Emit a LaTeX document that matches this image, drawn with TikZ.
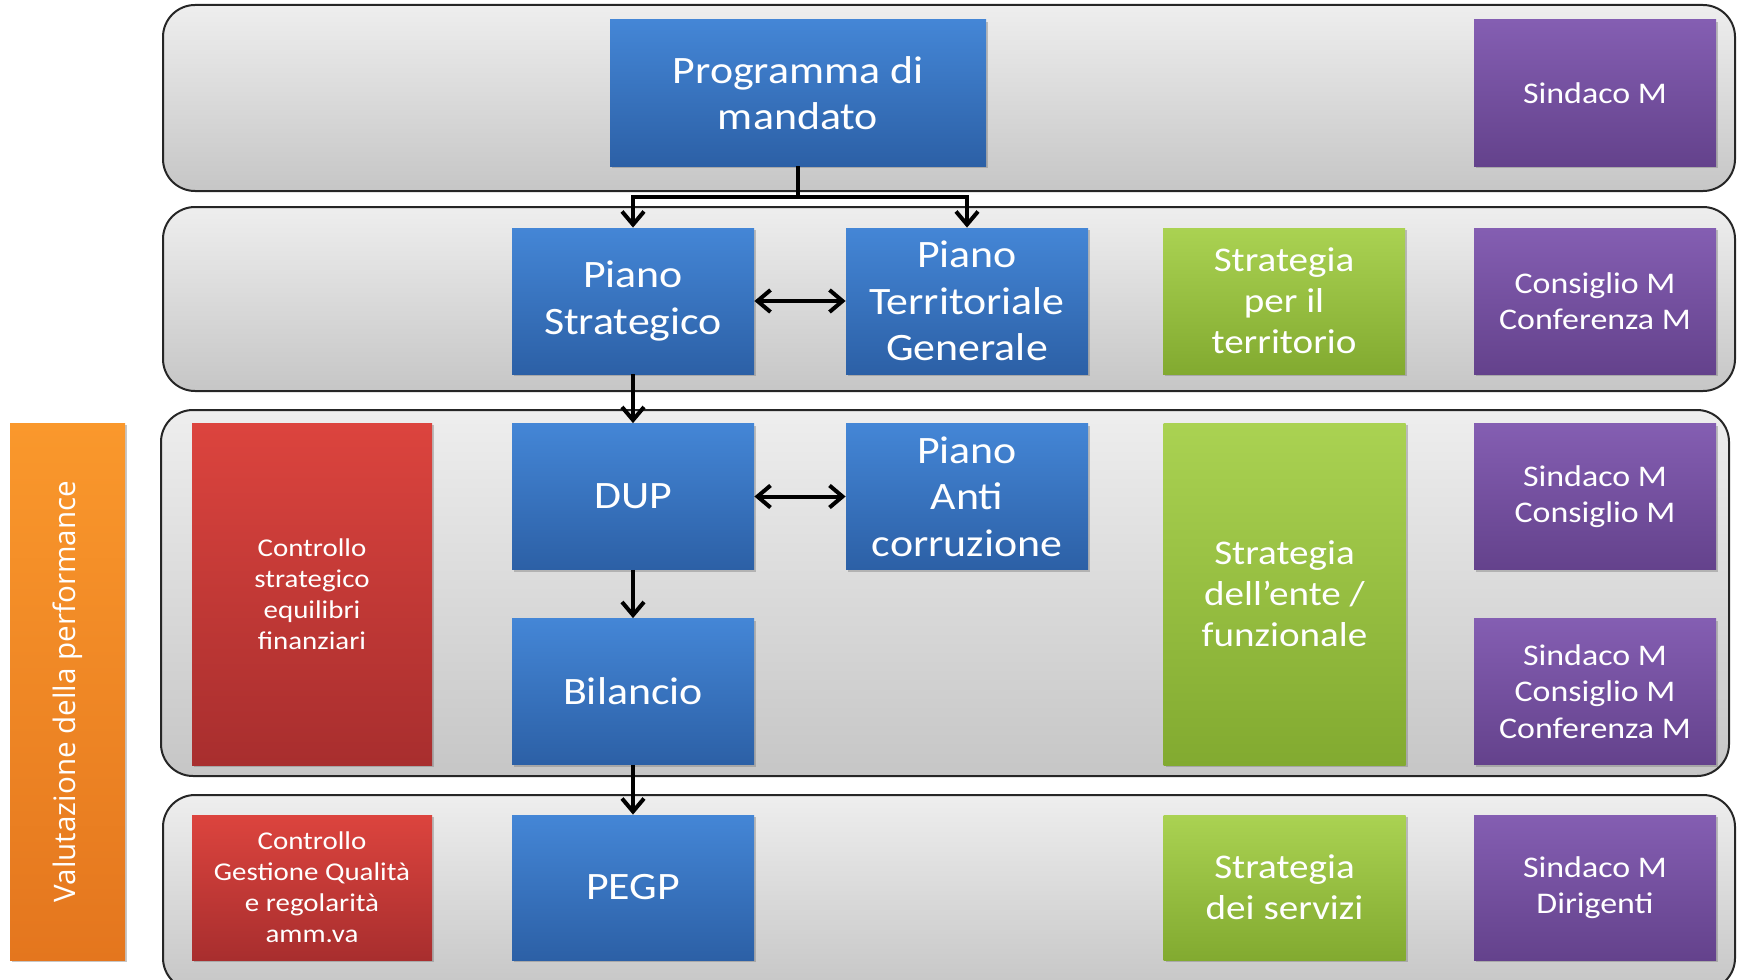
\documentclass[tikz,border=0pt]{standalone}
\usepackage{fontspec}
\setmainfont{Carlito}[FakeStretch=1.13]
\newfontfamily\orfont{Open Sans}
\usetikzlibrary{arrows.meta,shadows}
\definecolor{bandT}{RGB}{238,238,238}
\definecolor{bandB}{RGB}{198,198,198}
\definecolor{blueT}{RGB}{68,134,214}
\definecolor{blueB}{RGB}{44,96,166}
\definecolor{purT}{RGB}{132,94,178}
\definecolor{purB}{RGB}{100,66,140}
\definecolor{grnT}{RGB}{170,210,82}
\definecolor{grnB}{RGB}{130,170,48}
\definecolor{redT}{RGB}{220,68,62}
\definecolor{redB}{RGB}{168,46,46}
\definecolor{orT}{RGB}{250,152,44}
\definecolor{orB}{RGB}{228,118,30}
\begin{document}
\begin{tikzpicture}[x=0.5pt,y=-0.5pt,
  band/.style={draw=black!85, line width=1pt, rounded corners=16pt, top color=bandT, bottom color=bandB, inner sep=0pt},
  boxbase/.style={draw=none, text=white, align=center, inner sep=0pt,
    drop shadow={shadow xshift=1.2pt, shadow yshift=-1.2pt, opacity=0.45}},
  bluebox/.style={boxbase, top color=blueT, bottom color=blueB, minimum width=121pt, minimum height=73pt,
    font=\fontsize{19.4}{23.3}\selectfont},
  purbox/.style={boxbase, top color=purT, bottom color=purB, minimum width=121pt, minimum height=73pt,
    font=\fontsize{15}{18.3}\selectfont},
  grnbox/.style={boxbase, top color=grnT, bottom color=grnB, minimum width=121pt, minimum height=73pt,
    font=\fontsize{17.3}{20.5}\selectfont},
  redbox/.style={boxbase, top color=redT, bottom color=redB, minimum width=120pt, minimum height=73pt,
    font=\fontsize{12.8}{15.5}\selectfont},
  link/.style={line width=2pt, draw=black},
  arr/.style={link, -{Straight Barb[length=6.5pt,width=11pt]}},
  darr/.style={link, {Straight Barb[length=6.5pt,width=11pt]}-{Straight Barb[length=6.5pt,width=11pt]}}
]
\useasboundingbox (0,0) rectangle (1738,979);
\clip (0,0) rectangle (1738,979);

% bands
\node[band, minimum width=786pt, minimum height=93pt] (band1) at (949,98) {};
\node[band, minimum width=786pt, minimum height=92pt] (band2) at (949,299) {};
\node[band, minimum width=784pt, minimum height=183pt] (band3) at (945,593) {};
\node[band, minimum width=786pt, minimum height=97.5pt] (band4) at (949,892.5) {};

% orange side bar
\node[boxbase, top color=orT, bottom color=orB, minimum width=57.5pt, minimum height=268.5pt] (val) at (67.5,691.5) {};
\node[rotate=90, text=white, font=\orfont\fontsize{14.8}{17}\selectfont] (valtxt) at (val.center) {Valutazione della performance};

% row 1
\node[bluebox, minimum width=188pt] (prog) at (798,93) {Programma di\\mandato};
\node[purbox] (sind1) at (1595,93) {Sindaco M};

% row 2
\node[bluebox] (ps) at (633,301) {Piano\\Strategico};
\node[bluebox] (ptg) at (967,301) {Piano\\Territoriale\\Generale};
\node[grnbox] (stt) at (1284,301) {Strategia\\per il\\territorio};
\node[purbox] (cons) at (1595,301) {Consiglio M\\Conferenza M};

% row 3
\node[redbox, minimum height=171pt] (red1) at (312,594) {Controllo\\strategico\\equilibri\\finanziari};
\node[bluebox] (dup) at (633,496.5) {DUP};
\node[bluebox] (pac) at (967,496.5) {Piano\\Anti\\corruzione};
\node[grnbox, minimum height=171pt] (sente) at (1284.5,594) {Strategia\\dell’ente /\\funzionale};
\node[purbox] (sind2) at (1595,496.5) {Sindaco M\\Consiglio M};
\node[purbox] (sind3) at (1595,691.5) {Sindaco M\\Consiglio M\\Conferenza M};
\node[bluebox] (bil) at (633,691.5) {Bilancio};

% row 4
\node[redbox, minimum height=72.5pt] (red2) at (312,887.5) {Controllo\\Gestione Qualità\\e regolarità\\amm.va};
\node[bluebox, minimum height=72.5pt] (pegp) at (633,887.5) {PEGP};
\node[grnbox, minimum height=72.5pt] (sserv) at (1284.5,887.5) {Strategia\\dei servizi};
\node[purbox, minimum height=72.5pt] (sdir) at (1595,887.5) {Sindaco M\\Dirigenti};

% connectors
\coordinate (j) at (798,197);
\draw[link] (prog.south) -- (prog.south |- j);
\draw[arr] (prog.south |- j) -| (ps.north);
\draw[arr] (prog.south |- j) -| (ptg.north);
\draw[darr] (ps.east) -- (ptg.west);
\draw[arr] (ps.south) -- (dup.north);
\draw[darr] (dup.east) -- (pac.west);
\draw[arr] (dup.south) -- (bil.north);
\draw[arr] (bil.south) -- (pegp.north);
\end{tikzpicture}
\end{document}
